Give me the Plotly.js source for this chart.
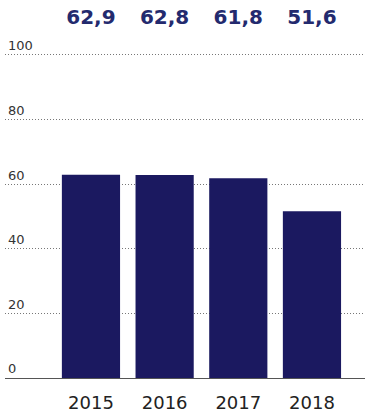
<!DOCTYPE html>
<html><head><meta charset="utf-8">
<script src="https://cdn.plot.ly/plotly-3.0.1.min.js"></script>
<style>html,body{margin:0;padding:0;background:#fff}#c{width:370px;height:416px}</style>
</head><body><div id="c"></div>
<script>
const years = ['2015','2016','2017','2018'];
const values = [62.9, 62.8, 61.8, 51.6];
const valueLabels = ['62,9','62,8','61,8','51,6'];
const yTicks = [0,20,40,60,80,100];

const bars = {
  type:'bar', x: years, y: values, width: 0.79,
  marker:{color:'#1b1960'}, hoverinfo:'none'
};
const labels = {
  type:'scatter', mode:'text', x: years, y: years.map(()=>111),
  text: valueLabels.map(t=>'<b>'+t+'</b>'), textposition:'middle center',
  textfont:{family:'DejaVu Sans, sans-serif', size:20, color:'#232a6e'},
  hoverinfo:'none', cliponaxis:false
};
const layout = {
  width:370, height:416,
  margin:{l:5, r:5, t:0, b:38},
  paper_bgcolor:'#fff', plot_bgcolor:'#fff',
  showlegend:false,
  xaxis:{type:'category', range:[-1.167, 3.72], showgrid:false, zeroline:false,
    showline:true, linecolor:'#555', linewidth:1, ticks:'', ticklabelstandoff:8,
    tickfont:{family:'DejaVu Sans, sans-serif', size:18, color:'#222'}},
  yaxis:{range:[0,117], tickvals:yTicks, ticktext:yTicks.map(String),
    showgrid:true, gridcolor:'#777', griddash:'1px,2px', gridwidth:1,
    zeroline:false, showline:false, ticks:'',
    ticklabelposition:'inside top',
    tickfont:{family:'DejaVu Sans, sans-serif', size:13, color:'#333'}}
};
Plotly.newPlot('c',[bars, labels],layout,{staticPlot:true});
</script></body></html>
